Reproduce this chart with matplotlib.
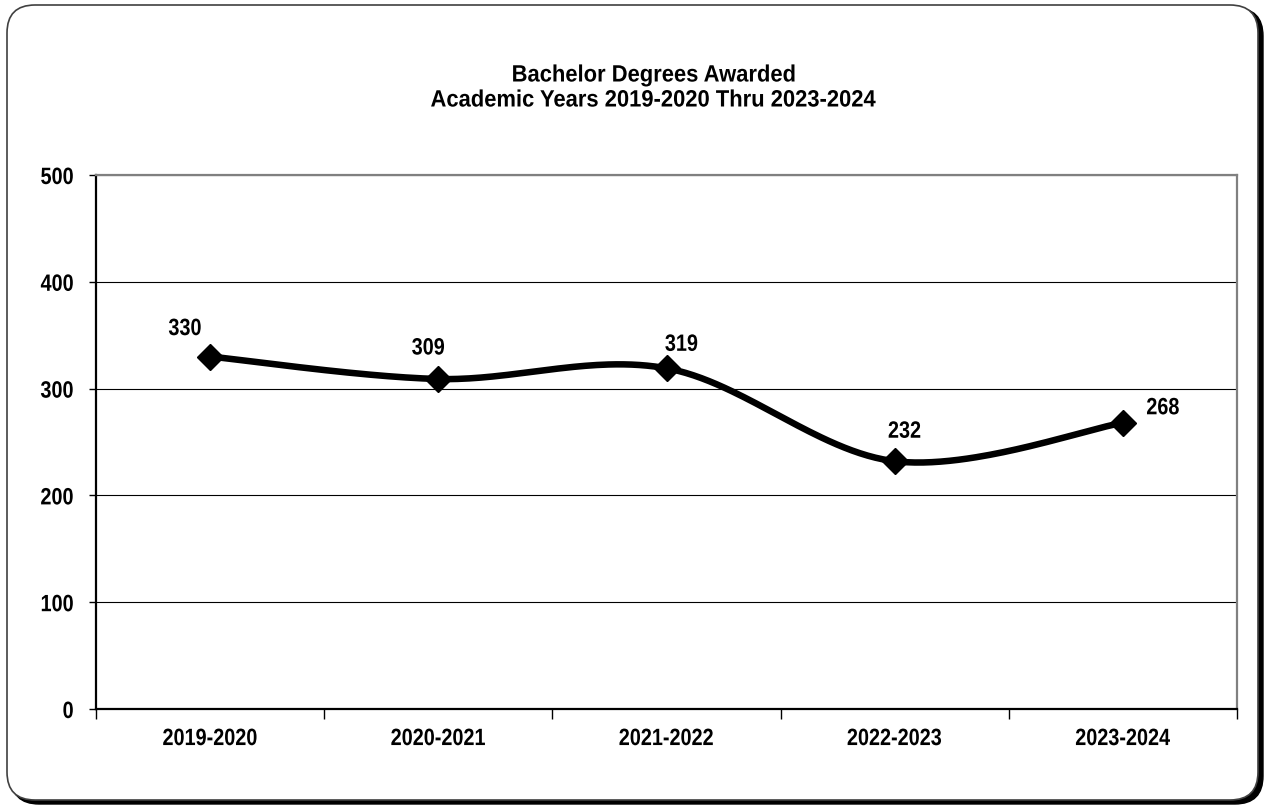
import matplotlib
matplotlib.use('Agg')
import matplotlib.pyplot as plt
import numpy as np
from matplotlib.patches import FancyBboxPatch
from matplotlib.patheffects import AbstractPathEffect
from matplotlib.transforms import Affine2D

# chart values
years = ['2019-2020', '2020-2021', '2021-2022', '2022-2023', '2023-2024']
degrees = [330, 309, 319, 232, 268]
yticks = [0, 100, 200, 300, 400, 500]

# where the value labels sit, in pixels from the point (Excel puts them a bit oddly)
label_offsets = [(-25, 28), (-10, 31), (15, 24), (10, 30), (40, 15)]

plt.rcParams['font.family'] = ['Liberation Sans', 'DejaVu Sans']
plt.rcParams['font.weight'] = 'bold'
FS = 17


class Squeeze(AbstractPathEffect):
    # no arial narrow here, so squash the glyph paths sideways
    def __init__(self, sx=0.84, anchor='center'):
        super().__init__()
        self.sx = sx
        self.anchor = anchor

    def draw_path(self, renderer, gc, tpath, affine, rgbFace=None):
        ext = tpath.get_extents()
        if self.anchor == 'right':
            ax0 = ext.x1
        elif self.anchor == 'left':
            ax0 = ext.x0
        else:
            ax0 = (ext.x0 + ext.x1) / 2
        t = Affine2D().translate(-ax0, 0).scale(self.sx, 1).translate(ax0, 0)
        renderer.draw_path(gc, tpath, t + affine, rgbFace)


def smooth(xs, ys, n=60):
    # catmull-rom style bezier, close to what excel does for "smoothed line"
    xs = np.asarray(xs, float)
    ys = np.asarray(ys, float)
    px = np.concatenate([[xs[0]], xs, [xs[-1]]])
    py = np.concatenate([[ys[0]], ys, [ys[-1]]])
    out_x, out_y = [], []
    t = np.linspace(0, 1, n)
    for i in range(1, len(px) - 2):
        p0 = np.array([px[i], py[i]])
        p3 = np.array([px[i + 1], py[i + 1]])
        c1 = p0 + (np.array([px[i + 1], py[i + 1]]) - np.array([px[i - 1], py[i - 1]])) / 6
        c2 = p3 - (np.array([px[i + 2], py[i + 2]]) - np.array([px[i], py[i]])) / 6
        b = (np.outer((1 - t) ** 3, p0) + np.outer(3 * (1 - t) ** 2 * t, c1)
             + np.outer(3 * (1 - t) * t ** 2, c2) + np.outer(t ** 3, p3))
        out_x.extend(b[:, 0])
        out_y.extend(b[:, 1])
    return out_x, out_y


fig = plt.figure(figsize=(12.68, 8.06), dpi=100)
W, H = 1268, 806

# rounded frame with a shadow on the right and bottom
rs = 28 / W
shadow = FancyBboxPatch((11 / W, 2 / H), 1252 / W, 796 / H,
                        boxstyle='round,pad=0,rounding_size=%f' % rs,
                        transform=fig.transFigure, facecolor='black', edgecolor='black',
                        mutation_aspect=W / H, zorder=0)
frame = FancyBboxPatch((7 / W, 6 / H), 1251 / W, 795 / H,
                       boxstyle='round,pad=0,rounding_size=%f' % rs,
                       transform=fig.transFigure, facecolor='white', edgecolor='#404040',
                       linewidth=1.2, mutation_aspect=W / H, zorder=1)
fig.patches.extend([shadow, frame])

ax = fig.add_axes([96 / W, 1 - 709 / H, (1237 - 96) / W, (709 - 175) / H])
ax.set_facecolor('none')
ax.set_zorder(2)

x = np.arange(len(years))
sx, sy = smooth(x, degrees)
ax.plot(sx, sy, color='black', linewidth=4.7, solid_capstyle='round', zorder=3)
ax.plot(x, degrees, linestyle='none', marker='D', markersize=13, color='black', zorder=4)

for xi, v, (dx, dy) in zip(x, degrees, label_offsets):
    ax.annotate(str(v), (xi, v), xytext=(dx * 0.72, dy * 0.72), textcoords='offset points',
                ha='center', va='center', fontsize=FS, fontweight='bold',
                path_effects=[Squeeze(0.84)])

ax.set_xlim(-0.5, len(years) - 0.5)
ax.set_ylim(0, 500)
ax.set_yticks(yticks)
ax.set_yticklabels([str(t) for t in yticks], fontsize=FS, fontweight='bold')
ax.set_xticks(x)
ax.set_xticklabels(years, fontsize=FS, fontweight='bold')
ax.tick_params(axis='x', length=0, pad=13)
ax.tick_params(axis='y', length=5, width=1, direction='out', pad=11)
# category boundary ticks
ax.set_xticks(np.arange(-0.5, len(years), 1), minor=True)
ax.tick_params(axis='x', which='minor', length=7, width=1, direction='out')
for lab in ax.get_xticklabels():
    lab.set_path_effects([Squeeze(0.84)])
for lab in ax.get_yticklabels():
    lab.set_path_effects([Squeeze(0.84, 'right')])

ax.grid(axis='y', color='black', linewidth=0.8)
ax.set_axisbelow(True)
for side in ['left', 'bottom']:
    ax.spines[side].set_color('black')
    ax.spines[side].set_linewidth(1.6)
for side in ['top', 'right']:
    ax.spines[side].set_color('#808080')
    ax.spines[side].set_linewidth(1.6)

fig.text(654 / W, 1 - 75 / H, 'Bachelor Degrees Awarded', ha='center', va='center',
         fontsize=FS, fontweight='bold', path_effects=[Squeeze(0.93)])
fig.text(654 / W, 1 - 100 / H, 'Academic Years 2019-2020 Thru 2023-2024', ha='center', va='center',
         fontsize=FS, fontweight='bold', path_effects=[Squeeze(0.93)])

fig.savefig('out.png', dpi=100)
